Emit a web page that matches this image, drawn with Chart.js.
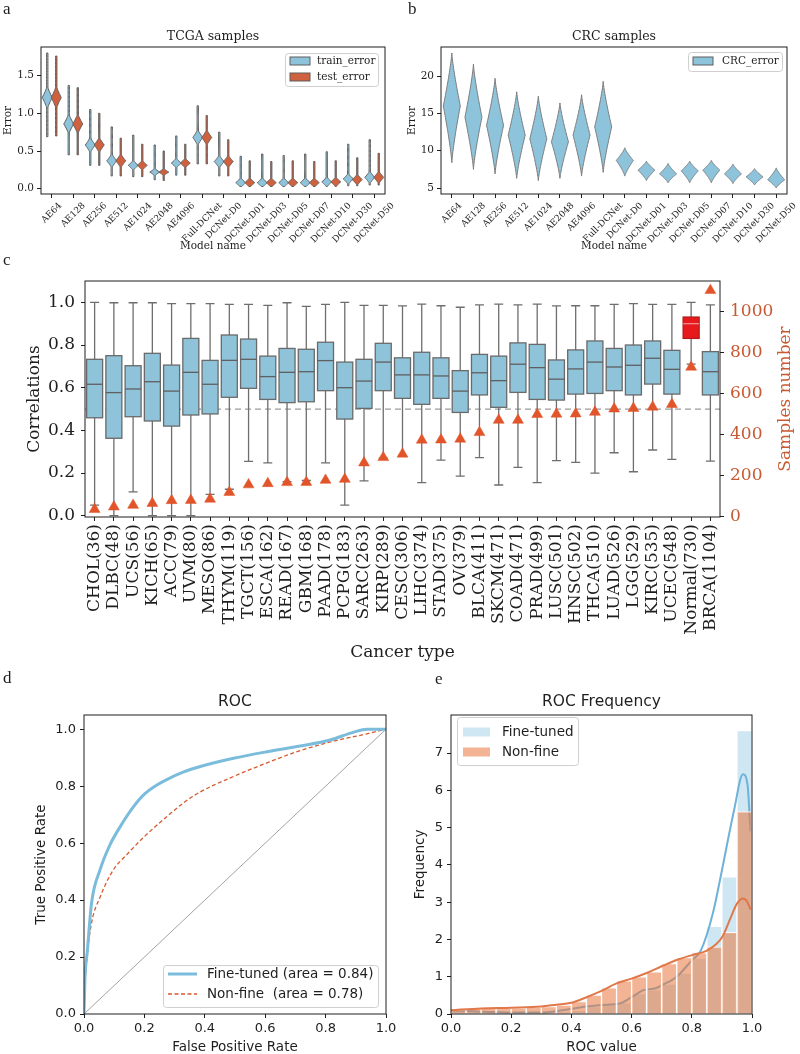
<!DOCTYPE html>
<html lang="en">
<head>
<meta charset="UTF-8" />
<title>Reconstruction error, correlations and ROC</title>
<script src="https://cdn.jsdelivr.net/npm/chart.js"></script>
<style>
  body { margin: 0; background: #fff; }
  #page { position: relative; width: 800px; height: 1054px; overflow: hidden; }
  canvas { position: absolute; }
</style>
</head>
<body>
<div id="page">
  <canvas id="chartA" width="400" height="253" style="left:0;top:0"></canvas>
  <canvas id="chartB" width="400" height="253" style="left:400px;top:0"></canvas>
  <canvas id="chartC" width="800" height="413" style="left:0;top:250px"></canvas>
  <canvas id="chartD" width="400" height="388" style="left:0;top:668px"></canvas>
  <canvas id="chartE" width="400" height="388" style="left:400px;top:668px"></canvas>
</div>
<script>
// ---------- a / b : reconstruction error per model ----------
const models = ['AE64', 'AE128', 'AE256', 'AE512', 'AE1024', 'AE2048', 'AE4096', 'Full-DCNet',
  'DCNet-D0', 'DCNet-D01', 'DCNet-D03', 'DCNet-D05', 'DCNet-D07', 'DCNet-D10', 'DCNet-D30', 'DCNet-D50']
const trainMin = [0.69, 0.45, 0.31, 0.17, 0.16, 0.12, 0.18, 0.33, 0.17, 0.03, 0.03, 0.03, 0.03, 0.03, 0.04, 0.05]
const trainMid = [1.21, 0.86, 0.58, 0.37, 0.31, 0.22, 0.34, 0.68, 0.36, 0.08, 0.08, 0.08, 0.08, 0.09, 0.13, 0.15]
const trainMax = [1.80, 1.37, 1.05, 0.82, 0.71, 0.58, 0.70, 1.10, 0.75, 0.43, 0.46, 0.44, 0.46, 0.49, 0.59, 0.65]
const testMin = [0.70, 0.45, 0.31, 0.17, 0.16, 0.11, 0.18, 0.33, 0.17, 0.03, 0.03, 0.03, 0.03, 0.03, 0.04, 0.05]
const testMid = [1.21, 0.86, 0.58, 0.37, 0.31, 0.22, 0.34, 0.68, 0.36, 0.08, 0.08, 0.08, 0.08, 0.09, 0.12, 0.15]
const testMax = [1.76, 1.34, 1.00, 0.67, 0.59, 0.50, 0.59, 0.97, 0.65, 0.37, 0.36, 0.37, 0.36, 0.37, 0.41, 0.47]
const coreSpread = [0.16, 0.14, 0.11, 0.10, 0.07, 0.05, 0.07, 0.11, 0.09, 0.07, 0.07, 0.07, 0.07, 0.07, 0.08, 0.09]
const errTicksA = [0, 0.5, 1.0, 1.5]

const crcMin = [8.4, 7.5, 6.9, 6.3, 6.0, 6.3, 6.6, 7.1, 6.6, 6.0, 5.7, 5.7, 5.7, 5.6, 5.4, 5.0]
const crcMid = [16.0, 14.5, 13.4, 12.1, 11.6, 11.2, 12.1, 13.2, 8.7, 7.4, 6.9, 7.3, 7.4, 6.9, 6.5, 6.1]
const crcMax = [23.1, 21.6, 19.7, 17.9, 17.3, 16.4, 17.5, 19.3, 10.4, 8.6, 8.3, 8.6, 8.7, 8.2, 7.6, 7.7]
const errTicksB = [5, 10, 15, 20]

// ---------- c : correlations per cancer type ----------
const cancers = ['CHOL', 'DLBC', 'UCS', 'KICH', 'ACC', 'UVM', 'MESO', 'THYM', 'TGCT', 'ESCA', 'READ',
  'GBM', 'PAAD', 'PCPG', 'SARC', 'KIRP', 'CESC', 'LIHC', 'STAD', 'OV', 'BLCA', 'SKCM', 'COAD', 'PRAD',
  'LUSC', 'HNSC', 'THCA', 'LUAD', 'LGG', 'KIRC', 'UCEC', 'Normal', 'BRCA']
const sampleCounts = [36, 48, 56, 65, 79, 80, 86, 119, 156, 162, 167, 168, 178, 183, 263, 289, 306,
  374, 375, 379, 411, 471, 471, 499, 501, 502, 510, 526, 529, 535, 548, 730, 1104]
const corrLow = [0.05, 0.0, 0.112, 0.0, 0.0, 0.0, 0.10, 0.124, 0.255, 0.248, 0.16, 0.165, 0.248, 0.05,
  0.163, 0.27, 0.28, 0.155, 0.261, 0.186, 0.272, 0.144, 0.227, 0.155, 0.258, 0.25, 0.2, 0.295, 0.206,
  0.308, 0.264, 0.71, 0.256]
const corrQ1 = [0.459, 0.363, 0.464, 0.444, 0.42, 0.472, 0.477, 0.555, 0.597, 0.545, 0.53, 0.534, 0.586,
  0.453, 0.503, 0.586, 0.55, 0.522, 0.55, 0.484, 0.566, 0.508, 0.578, 0.545, 0.542, 0.57, 0.573, 0.586,
  0.566, 0.617, 0.57, 0.831, 0.566]
const corrMed = [0.616, 0.577, 0.594, 0.628, 0.584, 0.672, 0.616, 0.728, 0.733, 0.652, 0.672, 0.675, 0.727,
  0.60, 0.631, 0.72, 0.66, 0.66, 0.655, 0.584, 0.67, 0.633, 0.71, 0.694, 0.64, 0.688, 0.72, 0.697, 0.705,
  0.738, 0.686, 0.90, 0.675]
const corrQ3 = [0.733, 0.75, 0.703, 0.761, 0.706, 0.831, 0.728, 0.847, 0.828, 0.748, 0.784, 0.78, 0.813,
  0.72, 0.733, 0.808, 0.74, 0.766, 0.74, 0.68, 0.756, 0.748, 0.81, 0.803, 0.73, 0.777, 0.819, 0.784, 0.80,
  0.819, 0.775, 0.931, 0.769]
const corrHigh = [1.0, 0.998, 0.998, 0.998, 0.994, 0.994, 0.994, 0.99, 0.99, 0.986, 0.998, 0.981, 0.99,
  1.0, 0.986, 0.986, 0.983, 0.992, 0.984, 0.977, 0.988, 0.992, 0.988, 0.992, 0.983, 0.984, 0.984, 0.99,
  0.994, 0.99, 0.99, 1.0, 0.988]
const corrTicks = [0, 0.2, 0.4, 0.6, 0.8, 1.0]
const countTicks = [0, 200, 400, 600, 800, 1000]
const corrCutoff = 0.5

// ---------- d : ROC curves ----------
const fineFpr = [0, 0.003, 0.011, 0.025, 0.053, 0.086, 0.12, 0.164, 0.2, 0.24, 0.274, 0.33, 0.385, 0.495, 0.606, 0.716, 0.815, 0.893, 0.937, 1]
const fineTpr = [0, 0.12, 0.22, 0.39, 0.506, 0.594, 0.658, 0.728, 0.772, 0.803, 0.823, 0.85, 0.869, 0.898, 0.921, 0.941, 0.962, 0.99, 1.0, 1.0]
const nonFpr = [0, 0.003, 0.01, 0.025, 0.053, 0.097, 0.141, 0.2, 0.274, 0.33, 0.385, 0.495, 0.606, 0.716, 0.826, 0.937, 1]
const nonTpr = [0, 0.1, 0.2, 0.32, 0.41, 0.506, 0.559, 0.623, 0.693, 0.742, 0.78, 0.834, 0.882, 0.925, 0.958, 0.984, 1]
const chance = [0, 1]
const unitTicks = [0, 0.2, 0.4, 0.6, 0.8, 1.0]

// ---------- e : ROC value histogram ----------
const binCenters = [0.025, 0.075, 0.125, 0.175, 0.225, 0.275, 0.325, 0.375, 0.425, 0.475,
  0.525, 0.575, 0.625, 0.675, 0.725, 0.775, 0.825, 0.875, 0.925, 0.975]
const fineHist = [0.1, 0.06, 0.05, 0.05, 0.05, 0.05, 0.05, 0.06, 0.1, 0.2, 0.25, 0.3, 0.55, 0.65, 0.8, 1.1, 1.5, 2.35, 3.68, 7.6]
const nonHist = [0.12, 0.15, 0.15, 0.15, 0.16, 0.18, 0.2, 0.24, 0.33, 0.51, 0.70, 0.89, 1.0, 1.13, 1.35, 1.51, 1.64, 1.8, 2.19, 5.43]
const fineKdeX = [0, 0.1, 0.2, 0.3, 0.37, 0.45, 0.5, 0.56, 0.6, 0.64, 0.68, 0.7, 0.75, 0.8, 0.83, 0.87, 0.9, 0.94, 0.97, 0.985, 0.995]
const fineKdeY = [0.1, 0.06, 0.04, 0.04, 0.1, 0.2, 0.24, 0.28, 0.45, 0.64, 0.69, 0.77, 1.0, 1.44, 1.7, 2.7, 3.85, 5.45, 6.43, 6.16, 4.9]
const nonKdeX = [0, 0.1, 0.2, 0.3, 0.35, 0.4, 0.45, 0.5, 0.55, 0.6, 0.65, 0.7, 0.75, 0.8, 0.85, 0.9, 0.93, 0.95, 0.97, 0.985, 0.995]
const nonKdeY = [0.1, 0.15, 0.17, 0.2, 0.25, 0.3, 0.45, 0.62, 0.82, 0.95, 1.1, 1.28, 1.45, 1.58, 1.7, 2.05, 2.6, 2.96, 3.1, 3.0, 2.8]
const freqTicks = [0, 1, 2, 3, 4, 5, 6, 7]

// ---------- shared look ----------
const SERIF = "'DejaVu Serif', serif"
const SANS = "'DejaVu Sans', sans-serif"
const INK = '#1e1e1e'
const BLUE = '#8ec4db'
const RED = '#d0613e'
const EDGE = '#5e5e5e'
const ORANGE = '#c75a33'
const TRI = '#e2542a'
const FINE_BAR = 'rgba(134, 193, 226, 0.4)'
const NON_BAR = 'rgba(232, 118, 60, 0.55)'

const fixedTicks = values => scale => { scale.ticks = values.map(value => ({ value })) }
const tickGrid = { drawOnChartArea: false, drawTicks: true, tickLength: 4, color: INK, lineWidth: 1 }
const base = { responsive: false, animation: false, events: [], devicePixelRatio: 1 }
const quiet = { legend: { display: false }, tooltip: { enabled: false } }

function drawLegend(ctx, L) {
  ctx.save()
  ctx.fillStyle = 'rgba(255,255,255,0.9)'
  ctx.strokeStyle = '#cfcfcf'
  ctx.lineWidth = 1
  ctx.beginPath()
  ctx.roundRect(L.x + 0.5, L.y + 0.5, L.w, L.h, 3)
  ctx.fill()
  ctx.stroke()
  ctx.font = L.font
  ctx.textAlign = 'left'
  ctx.textBaseline = 'middle'
  L.items.forEach((it, k) => {
    const cy = L.rows[k]
    if (it.line) {
      ctx.strokeStyle = it.color
      ctx.lineWidth = it.width
      ctx.setLineDash(it.dash || [])
      ctx.beginPath()
      ctx.moveTo(L.sx, cy)
      ctx.lineTo(L.sx + L.sw, cy)
      ctx.stroke()
      ctx.setLineDash([])
    } else {
      ctx.fillStyle = it.color
      ctx.fillRect(L.sx, cy - L.sh / 2, L.sw, L.sh)
      if (it.edge) {
        ctx.strokeStyle = it.edge
        ctx.lineWidth = 1
        ctx.strokeRect(L.sx, cy - L.sh / 2, L.sw, L.sh)
      }
    }
    ctx.fillStyle = INK
    ctx.fillText(it.label, L.tx, cy + 0.5)
  })
  ctx.restore()
}

// frame, panel title, panel letter, extra texts and legend
function decor(o) {
  return {
    id: 'decor',
    afterDraw(chart) {
      const { ctx, chartArea: a } = chart
      ctx.save()
      ctx.strokeStyle = INK
      ctx.lineWidth = 1
      ctx.strokeRect(a.left, a.top, a.right - a.left, a.bottom - a.top)
      ctx.textBaseline = 'middle'
      ctx.fillStyle = INK
      if (o.title) {
        ctx.font = o.titleFont
        ctx.textAlign = 'center'
        ctx.fillText(o.title, (a.left + a.right) / 2, a.top - o.titleGap)
      }
      ctx.font = "17px 'Liberation Serif', serif"
      ctx.textAlign = 'left'
      ctx.fillText(o.letter, o.letterX, o.letterY)
      if (o.side) {
        ctx.save()
        ctx.font = o.side.font
        ctx.fillStyle = o.side.color
        ctx.textAlign = 'center'
        ctx.translate(o.side.x, (a.top + a.bottom) / 2)
        ctx.rotate(-Math.PI / 2)
        ctx.fillText(o.side.text, 0, 0)
        ctx.restore()
      }
      if (o.legend) drawLegend(ctx, o.legend)
      ctx.restore()
    },
  }
}

// one violin: width shrinks from the mode towards the reach in each direction
function violin(ctx, x, ys, lo, mid, hi, halfW, reachUp, reachDown, tail, fill, edge) {
  const N = 30
  const vals = []
  for (let k = 0; k <= N; k++) vals.push(hi - (hi - mid) * k / N)
  for (let k = 1; k <= N; k++) vals.push(mid - (mid - lo) * k / N)
  const w = v => {
    const d = v >= mid ? (v - mid) / reachUp : (mid - v) / reachDown
    return Math.max(tail, halfW * Math.pow(Math.max(0, 1 - d), 1.25))
  }
  ctx.beginPath()
  vals.forEach((v, k) => {
    const px = x + w(v), py = ys.getPixelForValue(v)
    if (k) ctx.lineTo(px, py)
    else ctx.moveTo(px, py)
  })
  for (let k = vals.length - 1; k >= 0; k--) ctx.lineTo(x - w(vals[k]), ys.getPixelForValue(vals[k]))
  ctx.closePath()
  ctx.fillStyle = fill
  ctx.fill()
  ctx.strokeStyle = edge
  ctx.lineWidth = 1
  ctx.stroke()
}

// matplotlib style 45 degree labels, centred under the tick
function slantedLabels(chart, labels, size) {
  const { ctx, scales: { x }, chartArea: a } = chart
  ctx.save()
  ctx.font = size + 'px ' + SERIF
  ctx.fillStyle = INK
  ctx.textAlign = 'center'
  ctx.textBaseline = 'middle'
  labels.forEach((t, i) => {
    const half = (ctx.measureText(t).width + size) * Math.SQRT1_2 / 2
    ctx.save()
    ctx.translate(x.getPixelForValue(i), a.bottom + 7 + half)
    ctx.rotate(-Math.PI / 4)
    ctx.fillText(t, 0, 0)
    ctx.restore()
  })
  ctx.restore()
}

function errorAxes(yMin, yMax, ticks, fmt, titlePad) {
  return {
    x: {
      offset: true,
      ticks: { display: false },
      grid: tickGrid,
      border: { display: false },
      title: { display: true, text: 'Model name', color: INK, font: { family: SERIF, size: 10.5 }, padding: { top: 0, bottom: 0 } },
      afterFit(s) { s.height = 59 },
    },
    y: {
      min: yMin, max: yMax,
      afterBuildTicks: fixedTicks(ticks),
      ticks: { callback: fmt, color: INK, font: { family: SERIF, size: 10.5 }, padding: 3 },
      grid: tickGrid,
      border: { display: false },
      title: { display: true, text: 'Error', color: INK, font: { family: SERIF, size: 10.5 }, padding: { top: titlePad, bottom: 0 } },
      afterFit(s) { s.width = 41 },
    },
  }
}

// ---------- panel a ----------
new Chart(document.getElementById('chartA'), {
  type: 'line',
  data: { labels: models, datasets: [{ data: trainMid, showLine: false, pointRadius: 0 }] },
  options: {
    ...base,
    layout: { padding: { left: 0, right: 15, top: 47, bottom: 0 } },
    plugins: quiet,
    scales: errorAxes(-0.07, 1.88, errTicksA, v => v.toFixed(1), 2),
  },
  plugins: [
    {
      id: 'violinsA',
      afterDatasetsDraw(chart) {
        const { ctx, scales: { x, y } } = chart
        ctx.save()
        models.forEach((m, i) => {
          const cx = x.getPixelForValue(i)
          violin(ctx, cx - 4.5, y, trainMin[i], trainMid[i], trainMax[i], 5, coreSpread[i], coreSpread[i], 0.7, BLUE, EDGE)
          violin(ctx, cx + 4.5, y, testMin[i], testMid[i], testMax[i], 5, coreSpread[i], coreSpread[i], 0.7, RED, EDGE)
        })
        ctx.restore()
        slantedLabels(chart, models, 9)
      },
    },
    decor({
      title: 'TCGA samples', titleFont: '12.5px ' + SERIF, titleGap: 10,
      letter: 'a', letterX: 3, letterY: 10,
      legend: {
        x: 285, y: 53, w: 93, h: 33, rows: [61, 77], sx: 290, sw: 20, sh: 8, tx: 317,
        font: '10.5px ' + SERIF,
        items: [
          { label: 'train_error', color: BLUE, edge: EDGE },
          { label: 'test_error', color: RED, edge: EDGE },
        ],
      },
    }),
  ],
})

// ---------- panel b ----------
new Chart(document.getElementById('chartB'), {
  type: 'line',
  data: { labels: models, datasets: [{ data: crcMid, showLine: false, pointRadius: 0 }] },
  options: {
    ...base,
    layout: { padding: { left: 0, right: 13, top: 47, bottom: 0 } },
    plugins: quiet,
    scales: errorAxes(4.2, 23.9, errTicksB, v => String(v), 6),
  },
  plugins: [
    {
      id: 'violinsB',
      afterDatasetsDraw(chart) {
        const { ctx, scales: { x, y } } = chart
        ctx.save()
        models.forEach((m, i) => {
          violin(ctx, x.getPixelForValue(i), y, crcMin[i], crcMid[i], crcMax[i], 8.5,
            crcMax[i] - crcMid[i], crcMid[i] - crcMin[i], 0, BLUE, '#7a7a7a')
        })
        ctx.restore()
        slantedLabels(chart, models, 9)
      },
    },
    decor({
      title: 'CRC samples', titleFont: '12.5px ' + SERIF, titleGap: 10,
      letter: 'b', letterX: 8, letterY: 10,
      legend: {
        x: 288, y: 52, w: 94, h: 19, rows: [61], sx: 293, sw: 20, sh: 8, tx: 322,
        font: '10.5px ' + SERIF,
        items: [{ label: 'CRC_error', color: BLUE, edge: EDGE }],
      },
    }),
  ],
})

// ---------- panel c ----------
const boxesC = {
  id: 'boxesC',
  beforeDatasetsDraw(chart) {
    const { ctx, scales: { x, y }, chartArea: a } = chart
    ctx.save()
    const yc = y.getPixelForValue(corrCutoff)
    ctx.strokeStyle = '#9c9c9c'
    ctx.lineWidth = 1.3
    ctx.setLineDash([6, 4])
    ctx.beginPath()
    ctx.moveTo(a.left, yc)
    ctx.lineTo(a.right, yc)
    ctx.stroke()
    ctx.setLineDash([])
    cancers.forEach((c, i) => {
      const cx = x.getPixelForValue(i)
      const normal = c === 'Normal'
      const p = v => y.getPixelForValue(v)
      ctx.strokeStyle = '#6e6e6e'
      ctx.lineWidth = 1.3
      ctx.beginPath()
      ctx.moveTo(cx, p(corrHigh[i])); ctx.lineTo(cx, p(corrQ3[i]))
      ctx.moveTo(cx, p(corrQ1[i])); ctx.lineTo(cx, p(corrLow[i]))
      ctx.moveTo(cx - 4.5, p(corrHigh[i])); ctx.lineTo(cx + 4.5, p(corrHigh[i]))
      ctx.moveTo(cx - 4.5, p(corrLow[i])); ctx.lineTo(cx + 4.5, p(corrLow[i]))
      ctx.stroke()
      ctx.fillStyle = normal ? '#e8191c' : '#8ec3da'
      ctx.strokeStyle = normal ? '#b51818' : '#6a6a6a'
      ctx.fillRect(cx - 8, p(corrQ3[i]), 16, p(corrQ1[i]) - p(corrQ3[i]))
      ctx.strokeRect(cx - 8, p(corrQ3[i]), 16, p(corrQ1[i]) - p(corrQ3[i]))
      ctx.strokeStyle = normal ? '#f08a8a' : '#5f5f5f'
      ctx.beginPath()
      ctx.moveTo(cx - 8, p(corrMed[i])); ctx.lineTo(cx + 8, p(corrMed[i]))
      ctx.stroke()
    })
    ctx.restore()
  },
}

new Chart(document.getElementById('chartC'), {
  type: 'line',
  data: {
    labels: cancers.map((c, i) => c + '(' + sampleCounts[i] + ')'),
    datasets: [{
      data: sampleCounts, yAxisID: 'y2', showLine: false, clip: false,
      pointStyle: 'triangle', pointRadius: 6.3,
      pointBackgroundColor: TRI, pointBorderColor: TRI, pointBorderWidth: 0.5,
    }],
  },
  options: {
    ...base,
    layout: { padding: { left: 0, right: 0, top: 31, bottom: 0 } },
    plugins: quiet,
    scales: {
      x: {
        offset: true,
        ticks: { color: INK, font: { family: SERIF, size: 17 }, minRotation: 90, maxRotation: 90, autoSkip: false, padding: 3 },
        grid: tickGrid,
        border: { display: false },
        title: { display: true, text: 'Cancer type', color: INK, font: { family: SERIF, size: 17 }, padding: { top: 0, bottom: 0 } },
        afterFit(s) { s.height = 146 },
      },
      y: {
        position: 'left', min: -0.006, max: 1.1,
        afterBuildTicks: fixedTicks(corrTicks),
        ticks: { callback: v => v.toFixed(1), color: INK, font: { family: SERIF, size: 17 }, padding: 6 },
        grid: tickGrid,
        border: { display: false },
        title: { display: true, text: 'Correlations', color: INK, font: { family: SERIF, size: 17 }, padding: { top: 24, bottom: 0 } },
        afterFit(s) { s.width = 85 },
      },
      y2: {
        position: 'right', min: -1.5, max: 1150,
        afterBuildTicks: fixedTicks(countTicks),
        ticks: { callback: v => String(v), color: ORANGE, font: { family: SERIF, size: 17 }, padding: 6 },
        grid: tickGrid,
        border: { display: false },
        afterFit(s) { s.width = 80 },
      },
    },
  },
  plugins: [
    boxesC,
    decor({
      letter: 'c', letterX: 3, letterY: 11,
      side: { text: 'Samples number', x: 786, color: ORANGE, font: '17px ' + SERIF },
    }),
  ],
})

// ---------- panel d ----------
const pairs = (xs, ys) => xs.map((v, i) => ({ x: v, y: ys[i] }))

new Chart(document.getElementById('chartD'), {
  type: 'scatter',
  data: {
    datasets: [
      { data: pairs(fineFpr, fineTpr), showLine: true, borderColor: '#7bbcdc', borderWidth: 3, pointRadius: 0, cubicInterpolationMode: 'monotone' },
      { data: pairs(nonFpr, nonTpr), showLine: true, borderColor: '#d65a2e', borderWidth: 1.3, borderDash: [4, 2.5], pointRadius: 0, cubicInterpolationMode: 'monotone' },
      { data: pairs(chance, chance), showLine: true, borderColor: '#8c8c8c', borderWidth: 0.8, pointRadius: 0 },
    ],
  },
  options: {
    ...base,
    layout: { padding: { left: 0, right: 14, top: 47, bottom: 0 } },
    plugins: quiet,
    scales: {
      x: {
        type: 'linear', min: 0, max: 1,
        afterBuildTicks: fixedTicks(unitTicks),
        ticks: { callback: v => v.toFixed(1), color: INK, font: { family: SANS, size: 13 }, padding: 3 },
        grid: tickGrid,
        border: { display: false },
        title: { display: true, text: 'False Positive Rate', color: INK, font: { family: SANS, size: 13.5 }, padding: { top: 0, bottom: 0 } },
        afterFit(s) { s.height = 42 },
      },
      y: {
        min: 0, max: 1.05,
        afterBuildTicks: fixedTicks(unitTicks),
        ticks: { callback: v => v.toFixed(1), color: INK, font: { family: SANS, size: 13 }, padding: 4 },
        grid: tickGrid,
        border: { display: false },
        title: { display: true, text: 'True Positive Rate', color: INK, font: { family: SANS, size: 13.5 }, padding: { top: 33, bottom: 0 } },
        afterFit(s) { s.width = 84 },
      },
    },
  },
  plugins: [
    decor({
      title: 'ROC', titleFont: '15.5px ' + SANS, titleGap: 13,
      letter: 'd', letterX: 3, letterY: 11,
      legend: {
        x: 163, y: 297, w: 215, h: 42, rows: [306, 326], sx: 168, sw: 29, tx: 207,
        font: '13.5px ' + SANS,
        items: [
          { label: 'Fine-tuned (area = 0.84)', line: true, color: '#7bbcdc', width: 3 },
          { label: 'Non-fine  (area = 0.78)', line: true, color: '#d65a2e', width: 1.3, dash: [4, 2.5] },
        ],
      },
    }),
  ],
})

// ---------- panel e ----------
const histBar = { type: 'bar', grouped: false, barPercentage: 1, categoryPercentage: 1, borderColor: 'rgba(255,255,255,0.85)', borderWidth: 1 }

new Chart(document.getElementById('chartE'), {
  type: 'bar',
  data: {
    datasets: [
      { ...histBar, data: pairs(binCenters, fineHist), backgroundColor: FINE_BAR, order: 4 },
      { type: 'line', data: pairs(fineKdeX, fineKdeY), borderColor: '#6fb2d9', borderWidth: 2, pointRadius: 0, cubicInterpolationMode: 'monotone', order: 3 },
      { ...histBar, data: pairs(binCenters, nonHist), backgroundColor: NON_BAR, order: 2 },
      { type: 'line', data: pairs(nonKdeX, nonKdeY), borderColor: '#e0784a', borderWidth: 2, pointRadius: 0, cubicInterpolationMode: 'monotone', order: 1 },
    ],
  },
  options: {
    ...base,
    layout: { padding: { left: 0, right: 48, top: 47, bottom: 0 } },
    plugins: quiet,
    scales: {
      x: {
        type: 'linear', min: 0, max: 1, offset: false,
        afterBuildTicks: fixedTicks(unitTicks),
        ticks: { callback: v => v.toFixed(1), color: INK, font: { family: SANS, size: 13 }, padding: 3 },
        grid: { ...tickGrid, offset: false },
        border: { display: false },
        title: { display: true, text: 'ROC value', color: INK, font: { family: SANS, size: 13.5 }, padding: { top: 0, bottom: 0 } },
        afterFit(s) { s.height = 42 },
      },
      y: {
        min: 0, max: 8.02,
        afterBuildTicks: fixedTicks(freqTicks),
        ticks: { color: INK, font: { family: SANS, size: 13 }, padding: 4 },
        grid: tickGrid,
        border: { display: false },
        title: { display: true, text: 'Frequency', color: INK, font: { family: SANS, size: 13.5 }, padding: { top: 12, bottom: 0 } },
        afterFit(s) { s.width = 51 },
      },
    },
  },
  plugins: [
    decor({
      title: 'ROC Frequency', titleFont: '15.5px ' + SANS, titleGap: 13,
      letter: 'e', letterX: 35, letterY: 12,
      legend: {
        x: 57, y: 49, w: 121, h: 48, rows: [64, 84], sx: 63, sw: 27, sh: 9, tx: 102,
        font: '13.5px ' + SANS,
        items: [
          { label: 'Fine-tuned', color: FINE_BAR },
          { label: 'Non-fine', color: NON_BAR },
        ],
      },
    }),
  ],
})
</script>
</body>
</html>
